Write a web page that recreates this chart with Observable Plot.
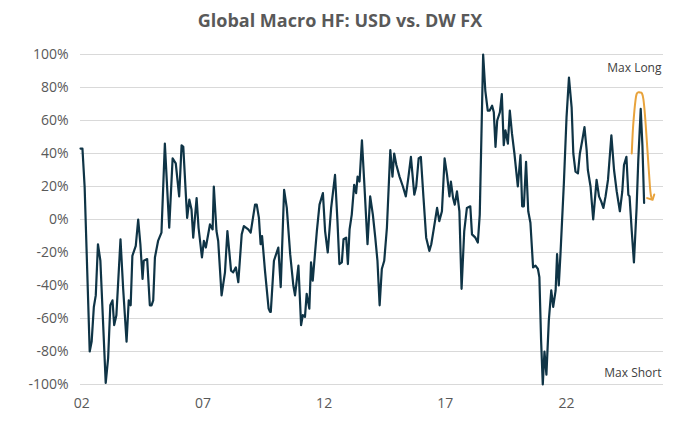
<!DOCTYPE html>
<html><head><meta charset="utf-8">
<script src="https://cdn.jsdelivr.net/npm/d3@7"></script>
<script src="https://cdn.jsdelivr.net/npm/@observablehq/plot@0.6"></script>
<style>
body{margin:0;background:#fff;font-family:"Open Sans",sans-serif;}
#wrap{position:relative;width:680px;height:425px;}
#title{position:absolute;top:8px;left:0;width:680px;text-align:center;font-size:18px;font-weight:bold;color:#595959;}
</style></head><body>
<div id="wrap"><div id="title">Global Macro HF: USD vs. DW FX</div><div id="chart"></div></div>
<script>
const years = [2001.95,2002.03,2002.12,2002.33,2002.41,2002.50,2002.58,2002.67,2002.77,2002.99,2003.09,2003.18,2003.27,2003.34,2003.43,2003.60,2003.71,2003.85,2003.94,2004.02,2004.09,2004.23,2004.33,2004.42,2004.51,2004.56,2004.70,2004.81,2004.88,2004.95,2005.02,2005.15,2005.29,2005.43,2005.61,2005.75,2005.88,2006.02,2006.12,2006.19,2006.30,2006.35,2006.44,2006.53,2006.60,2006.74,2006.82,2006.96,2007.04,2007.12,2007.29,2007.40,2007.45,2007.56,2007.63,2007.77,2007.91,2008.01,2008.16,2008.25,2008.36,2008.46,2008.60,2008.69,2008.87,2008.97,2009.15,2009.22,2009.31,2009.38,2009.44,2009.56,2009.71,2009.77,
2009.80,2009.93,2010.11,2010.21,2010.35,2010.46,2010.60,2010.73,2010.80,2010.94,2011.05,2011.12,2011.21,2011.28,2011.39,2011.46,2011.53,2011.70,2011.81,2011.95,2012.04,2012.15,2012.29,2012.45,2012.55,2012.63,2012.73,2012.80,2012.91,2012.98,2013.05,2013.14,2013.24,2013.32,2013.38,2013.46,2013.56,2013.65,2013.79,2013.90,2014.01,2014.11,2014.20,2014.29,2014.38,2014.48,2014.59,2014.73,2014.82,2014.89,2014.98,2015.11,2015.25,2015.37,2015.48,2015.58,2015.72,2015.80,2015.90,2015.99,2016.10,2016.21,2016.34,2016.42,2016.52,2016.66,2016.75,2016.86,2016.97,2017.07,2017.17,2017.23,2017.32,2017.39,2017.48,2017.58,2017.67,2017.78,2017.89,2018.03,
2018.10,2018.24,2018.34,2018.42,2018.56,2018.65,2018.75,2018.83,2018.93,2019.00,2019.07,2019.14,2019.25,2019.33,2019.41,2019.48,2019.58,2019.66,2019.75,2019.85,2019.99,2020.10,2020.17,2020.24,2020.33,2020.42,2020.51,2020.62,2020.72,2020.82,2020.88,2020.95,2021.02,2021.09,2021.17,2021.27,2021.37,2021.45,2021.55,2021.61,2021.68,2021.75,2021.89,2022.00,2022.10,2022.21,2022.28,2022.37,2022.47,2022.55,2022.65,2022.74,2022.83,2022.88,2022.99,2023.10,2023.24,2023.34,2023.43,2023.52,2023.61,2023.71,2023.85,2023.96,2024.07,2024.20,2024.30,2024.37,2024.47,2024.55,2024.60,2024.69,2024.78,2024.89,2024.96,2025.06,2025.13,2025.20];
const usd = [43,43,20,-80,-74,-53,-46,-15,-25,-99,-84,-52,-49,-64,-58,-12,-42,-74,-49,-52,-22,-16,0,-15,-36,-25,-24,-52,-52,-49,-23,-13,-8,46,-5,37,34,14,45,44,14,1,12,6,-11,13,-5,-23,-13,-17,-3,-6,20,-7,-13,-46,-32,-7,-31,-32,-29,-38,-9,-4,-6,-8,9,9,1,-15,-10,-31,-54,-56,
-56,-25,-17,-41,18,7,-21,-40,-46,-28,-64,-58,-59,-45,-54,-26,-37,-7,9,16,-7,-20,7,27,-1,-27,-26,-12,-11,-27,-6,3,21,16,26,23,48,24,-15,14,3,-11,-25,-52,-30,-25,-5,42,26,40,33,26,20,14,26,38,15,20,37,38,13,-11,-19,-15,-6,7,-1,5,37,27,14,23,13,9,17,5,-42,-7,7,8,
-9,-11,-14,3,100,78,66,66,69,65,44,60,65,76,45,54,46,66,52,40,20,39,8,8,35,5,-2,-29,-28,-30,-35,-73,-100,-80,-94,-61,-43,-53,-43,-21,-40,-21,22,62,86,68,40,29,28,40,48,56,42,30,20,0,24,14,11,7,14,24,51,30,17,5,17,33,38,15,14,-7,-26,7,36,67,45,10];
const arrowYears = [24.69,24.74,24.80,24.89,25.03,25.17,25.31,25.44,25.51].map(d=>2000+d);
const arrowVals = [40,55,66,76,77,73,48,20,13];
const yTicks = [-100,-80,-60,-40,-20,0,20,40,60,80,100];
const xTicks = [2002,2007,2012,2017,2022];
const xLabels = ["02","07","12","17","22"];
const notes = [{t:"Max Long",v:92},{t:"Max Short",v:-93}];

const data = years.map((y,i)=>({x:y,v:usd[i]}));
const arrow = arrowYears.map((y,i)=>({x:y,v:arrowVals[i]}));
const chart = Plot.plot({
  width:680,height:425,marginTop:54,marginBottom:41,marginLeft:80,marginRight:17,
  style:{fontFamily:"Open Sans, sans-serif",fontSize:"14px",color:"#595959"},
  x:{domain:[2001.95,2026.0],ticks:xTicks,tickFormat:d=>xLabels[xTicks.indexOf(d)],tickSize:0,tickPadding:14,label:null},
  y:{domain:[-100,100],ticks:yTicks,tickFormat:d=>d+"%",tickSize:0,tickPadding:12,label:null},
  marks:[
    Plot.gridY(yTicks,{stroke:"#d9d9d9",strokeOpacity:1,strokeWidth:1.2}),
    Plot.line(data,{x:"x",y:"v",stroke:"#0f3446",strokeWidth:2.2}),
    Plot.line(arrow,{x:"x",y:"v",stroke:"#E8A33C",strokeWidth:2,curve:"natural",markerEnd:"arrow"}),
    Plot.text(notes,{x:()=>2026.0,y:"v",text:"t",textAnchor:"end",dx:-2,fill:"#404040",fontSize:12})
  ]
});
document.getElementById("chart").appendChild(chart);
</script></body></html>
